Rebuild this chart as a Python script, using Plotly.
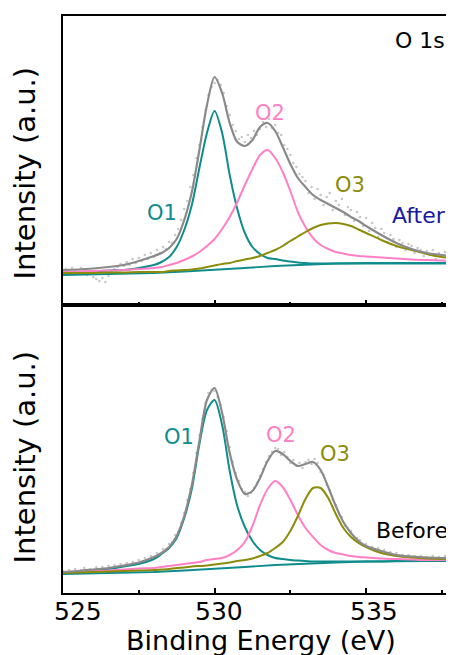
import plotly.graph_objects as go
from plotly.subplots import make_subplots

# ---------------- data ----------------
energy = [525, 525.5, 526, 526.5, 527, 527.5, 528, 528.25, 528.5, 528.75, 529, 529.25, 529.5,
          529.75, 530, 530.25, 530.5, 530.75, 531, 531.25, 531.5, 531.75, 532, 532.25, 532.5,
          532.75, 533, 533.25, 533.5, 533.75, 534, 534.25, 534.5, 534.75, 535, 535.5, 536,
          536.5, 537, 537.5, 538]

# After (top panel)
after_env = [35, 35.5, 36.5, 38, 40, 44, 49, 52, 57, 66, 85, 113, 155, 200, 228, 212, 182, 163,
             159, 165, 178, 182, 174, 158, 141, 127, 118, 110, 105, 101, 97, 93, 88, 84, 79, 70,
             62, 56, 52, 50, 48]
after_o1 = [32, 33, 33.5, 34.5, 35, 37, 40, 43, 48, 58, 75, 100, 137, 172, 194, 172, 130, 96, 72,
            58, 51, 47, 46, 44.5, 43.5, 42.5, 42, 41.5, 41.5, 41.5, 41.5, 41.5, 41.5, 41.5, 41.5,
            41.5, 41.5, 41.5, 41.5, 41.5, 41.5]
after_o2 = [33, 33.5, 34, 34.5, 35, 36, 37, 38, 40, 42, 45, 48.5, 53, 59, 66, 76, 88, 103, 120,
            136, 150, 155, 147, 133, 114, 93, 78, 67, 60, 56, 53, 51.5, 50, 49, 48.5, 47.5, 46.5,
            45.5, 45, 44.5, 44]
after_o3 = [32, 32, 32, 32.5, 32.5, 33, 33, 33, 34, 34.5, 35, 35.5, 36.5, 38, 39.5, 41, 42, 44,
            45.5, 47, 49, 52, 55, 59, 64, 68.5, 73, 77, 80, 81.5, 82, 81, 79, 75.5, 72, 65, 59,
            55, 51, 48, 46]
bg_energy = [525, 526, 527, 528, 529, 530, 531, 532, 533, 534, 535, 536, 537, 538]
after_bg = [30, 30.5, 31, 32, 33.5, 35, 37, 39, 40.5, 41.5, 42, 42, 42, 42]

# raw data points, one every 0.1 eV from 525.0 to 537.9
dot_energy = [round(525 + 0.1 * i, 1) for i in range(130)]
after_raw = [34, 36, 33, 37, 35, 32, 37, 34, 30, 33,
             28, 26, 24, 27, 23, 29, 33, 36, 38, 41,
             39, 43, 40, 46, 42, 47, 44, 50, 46, 52,
             48, 55, 52, 58, 56, 63, 62, 70, 76, 85,
             96, 104, 118, 130, 147, 160, 178, 195, 210, 218,
             222, 225, 220, 212, 199, 190, 180, 174, 166, 168,
             163, 170, 167, 174, 170, 176, 183, 178, 186, 177,
             180, 172, 170, 160, 156, 150, 142, 138, 131, 128,
             124, 112, 118, 106, 116, 110, 100, 108, 112, 95,
             104, 100, 106, 90, 98, 95, 84, 93, 88, 79,
             87, 74, 82, 77, 68, 76, 72, 63, 70, 66,
             58, 65, 62, 55, 61, 59, 52, 57, 55, 49,
             54, 50, 55, 46, 52, 49, 53, 45, 51, 47]

# Before (bottom panel)
before_env = [21, 22, 23.5, 25, 27.5, 30.5, 36, 40, 46, 57, 77, 108, 152, 193, 205, 180, 140, 113,
              99, 102, 115, 132, 142, 139, 132, 127, 129, 131, 123, 106, 87, 71, 60, 52, 47, 42,
              38, 36.5, 35.5, 35, 35]
before_o1 = [20, 21, 22, 24, 26.5, 29, 34, 39, 45, 55, 75, 104, 149, 183, 193, 168, 122, 87, 66,
             52, 43, 38, 35, 34, 33, 32.5, 32, 31.5, 31.5, 31.5, 31.5, 31.5, 31.5, 31.5, 31.5,
             31.5, 32, 32, 32, 32, 32]
before_o2 = [21, 21.5, 22, 22.5, 23.5, 24.5, 25, 26, 27, 28, 29, 30, 31, 33, 34, 35, 38, 43, 51,
             67, 88, 104, 112, 106, 93, 78, 65, 56, 48, 43, 40, 38.5, 37, 36, 35.5, 34.5, 34,
             33.5, 33, 33, 33]
before_o3 = [20, 20.5, 21, 21.5, 22, 22.5, 23, 23.5, 24, 25, 25.5, 26.5, 27, 27.5, 28.5, 29.5,
             30.5, 32, 33, 34.5, 37, 40, 45, 51, 62, 77, 94, 105, 105, 95, 79, 65, 56, 50, 46,
             40, 37, 35.5, 34.5, 34, 34]
before_bg = [19, 19.5, 20, 21, 22.5, 24, 26, 28, 29.5, 30.5, 31.5, 32, 32, 32]
before_raw = [22, 19, 23, 21, 24, 20, 23, 25, 22, 24,
              22, 26, 23, 26, 24, 27, 25, 28, 26, 29,
              27, 30, 28, 31, 29, 33, 31, 35, 33, 37,
              36, 40, 39, 44, 44, 49, 51, 58, 61, 70,
              80, 93, 104, 120, 140, 158, 174, 190, 200, 203,
              202, 196, 188, 176, 162, 146, 131, 120, 112, 104,
              101, 97, 100, 105, 110, 117, 124, 131, 137, 141,
              145, 144, 138, 141, 136, 130, 133, 127, 130, 125,
              131, 133, 129, 134, 130, 121, 118, 108, 103, 93,
              88, 79, 76, 67, 65, 62, 56, 55, 53, 48,
              49, 45, 46, 44, 45, 41, 43, 40, 41, 38,
              40, 37, 38, 36, 38, 36, 37, 35, 37, 34,
              36, 35, 37, 34, 36, 35, 37, 34, 36, 35]

tick_vals = [525, 530, 535]
tick_text = ["525", "530", "535"]
minor_vals = [527.5, 532.5, 537.5]

# ---------------- styles ----------------
C_ENV = "#8a8a8a"
C_RAW = "#c8c8c8"
C_O1 = "#108c8c"
C_O2 = "#ff80c4"
C_O3 = "#8c8c0a"
FONT = "DejaVu Sans"

fig = make_subplots(rows=2, cols=1, shared_xaxes=False, vertical_spacing=0)

def add_panel(row, raw, env, o1, o2, o3, bg):
    fig.add_trace(go.Scatter(x=dot_energy, y=raw, mode="markers",
                             marker=dict(color=C_RAW, size=2.6), showlegend=False), row=row, col=1)
    fig.add_trace(go.Scatter(x=bg_energy, y=bg, mode="lines",
                             line=dict(color=C_O1, width=1.8), showlegend=False), row=row, col=1)
    for ys, c in [(o1, C_O1), (o2, C_O2), (o3, C_O3)]:
        fig.add_trace(go.Scatter(x=energy, y=ys, mode="lines",
                                 line=dict(color=c, width=2, shape="spline", smoothing=0.8),
                                 showlegend=False), row=row, col=1)
    fig.add_trace(go.Scatter(x=energy, y=env, mode="lines",
                             line=dict(color=C_ENV, width=2.2, shape="spline", smoothing=0.8),
                             showlegend=False), row=row, col=1)

add_panel(1, after_raw, after_env, after_o1, after_o2, after_o3, after_bg)
add_panel(2, before_raw, before_env, before_o1, before_o2, before_o3, before_bg)

split = 288 / 577
xcommon = dict(range=[525, 537.9], showgrid=False, zeroline=False, showline=True,
               linecolor="black", linewidth=2, ticks="inside", ticklen=5, tickwidth=1.5,
               tickcolor="black", tickvals=tick_vals, showticklabels=False,
               minor=dict(tickvals=minor_vals, ticks="inside", ticklen=3, tickwidth=1.5,
                          tickcolor="black"))
fig.update_xaxes(**xcommon)
fig.update_xaxes(mirror=True, row=1, col=1)
fig.update_xaxes(mirror=True, row=2, col=1)
fig.update_yaxes(showgrid=False, zeroline=False, showline=True, linecolor="black",
                 linewidth=2, ticks="", showticklabels=False)
fig.update_layout(
    yaxis=dict(domain=[split, 1], range=[0, 289]),
    yaxis2=dict(domain=[0, split], range=[0, 288]),
)

ann = []
def label(text, x, y, color, ref, size=21):
    ann.append(dict(text=text, x=x, y=y, xref="x" if ref == 1 else "x2",
                    yref="y" if ref == 1 else "y2", showarrow=False,
                    font=dict(family=FONT, size=size, color=color),
                    xanchor="center", yanchor="middle"))

label("O 1s", 536.78, 265, "black", 1, 22)
label("O1", 528.27, 92, C_O1, 1)
label("O2", 531.83, 192, C_O2, 1)
label("O3", 534.47, 120, C_O3, 1)
label("After", 536.75, 90, "#1818a0", 1, 22)
label("O1", 528.83, 156, C_O1, 2)
label("O2", 532.18, 158, C_O2, 2)
label("O3", 533.99, 139, C_O3, 2)
label("Before", 536.52, 63, "black", 2, 22)

# tick labels on the bottom axis
shifts = [15, 4, 8]
for v, t, s in zip(tick_vals, tick_text, shifts):
    ann.append(dict(text=t, x=v, y=0, xref="x2", yref="paper", yanchor="middle",
                    xanchor="center", xshift=s, yshift=-(611 - 593), showarrow=False,
                    font=dict(family=FONT, size=25, color="black")))
# axis titles
ann.append(dict(text="Binding Energy (eV)", x=0.5, y=0, xref="paper", yref="paper",
                xanchor="center", yanchor="middle", yshift=-(640 - 593), xshift=2,
                showarrow=False, font=dict(family=FONT, size=27, color="black")))
for yc in [173.5, 457.5]:
    ann.append(dict(text="Intensity (a.u.)", x=0, y=1, xref="paper", yref="paper",
                    xanchor="center", yanchor="middle", xshift=24 - 63, yshift=-(yc - 16),
                    textangle=-90, showarrow=False,
                    font=dict(family=FONT, size=29, color="black")))

# the page body has an 8 px margin, so the figure is 8 px smaller on each side
fig.update_layout(
    width=446, height=647,
    margin=dict(l=55, r=0, t=8, b=62),
    plot_bgcolor="white", paper_bgcolor="white",
    annotations=ann, showlegend=False,
)

fig.write_html("out.html")
